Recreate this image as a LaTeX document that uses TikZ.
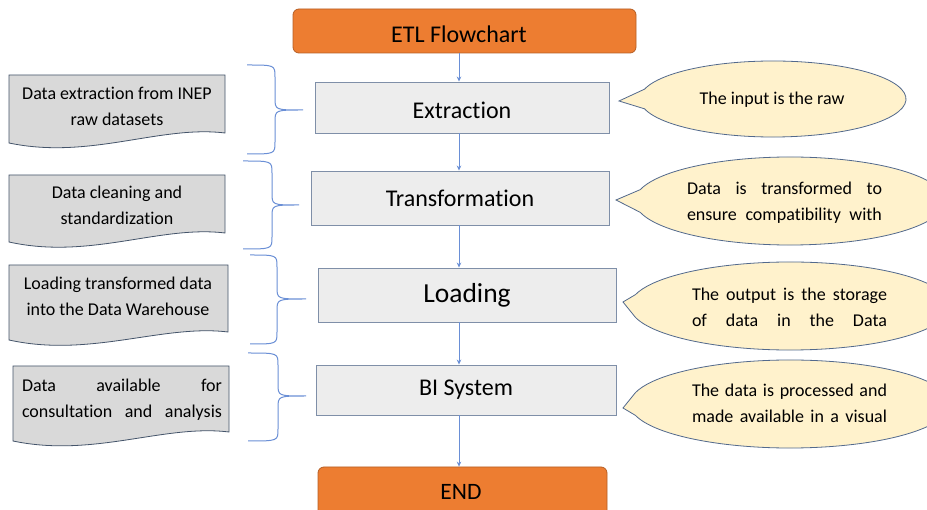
\documentclass[tikz,border=0pt]{standalone}
\usepackage{fontspec}
\setmainfont[Ligatures=NoCommon]{Carlito}
\usetikzlibrary{arrows.meta,calc}
\definecolor{orangeF}{HTML}{ED7D31}
\definecolor{orangeD}{HTML}{B65F25}
\definecolor{procF}{HTML}{EDEDED}
\definecolor{procD}{HTML}{7F8FA8}
\definecolor{docF}{HTML}{D9D9D9}
\definecolor{docD}{HTML}{44546A}
\definecolor{callF}{HTML}{FFF2CC}
\definecolor{callD}{HTML}{52698C}
\definecolor{brc}{HTML}{6A8FD6}
\begin{document}
\begin{tikzpicture}[x=1pt,y=-1pt,
 term/.style={draw=orangeD, fill=orangeF, rounded corners=6pt, line width=0.8pt, inner sep=0pt},
 proc/.style={draw=procD, fill=procF, line width=0.9pt, inner sep=0pt, font=\fontsize{24}{27}\selectfont},
 doctxt/.style={font=\fontsize{18}{26}\selectfont, align=center, inner sep=0pt},
 docshape/.style={draw=docD, fill=docF, line width=0.8pt},
 calltxt/.style={font=\fontsize{18}{25.5}\selectfont, align=center, inner sep=0pt},
 callshape/.style={draw=callD, fill=callF, line width=0.8pt},
 brace/.style={draw=brc, line width=1pt},
 arr/.style={draw=brc, line width=0.8pt, -{Stealth[length=5pt,width=4.5pt]}}]
\clip (0,0) rectangle (927,510);
\fill[white] (0,0) rectangle (927,510);

% main flow
\node[term, minimum width=343pt, minimum height=44pt] (etl) at (464.5,31) {};
\node (etlt) at (459,34) {\fontsize{24}{27}\selectfont ETL Flowchart};
\node[proc, minimum width=294pt, minimum height=51pt, text height=22pt, text depth=0pt] (ext) at (462,107.5) {Extraction};
\node[proc, minimum width=298pt, minimum height=54pt] (tra) at (460,198) {Transformation};
\node[proc, minimum width=298pt, minimum height=54pt, font=\fontsize{27.5}{31}\selectfont] (loa) at (467,295) {Loading};
\node[proc, minimum width=300pt, minimum height=50pt] (bis) at (466,390) {BI System};
\node[term, minimum width=289pt, minimum height=50pt] (endn) at (462.5,492) {};
\node (endt) at (461,492) {\fontsize{23.5}{27}\selectfont END};

\coordinate (ax) at (459,0);
\draw[arr] (etl.south -| ax) -- (ext.north -| ax);
\draw[arr] (ext.south -| ax) -- (tra.north -| ax);
\draw[arr] (tra.south -| ax) -- (loa.north -| ax);
\draw[arr] (loa.south -| ax) -- (bis.north -| ax);
\draw[arr] (bis.south -| ax) -- (endn.north -| ax);

% documents
\path[docshape] (9,75) -- (225,75) -- (225,133) .. controls (160,125) and (90,160) .. (9,143) -- cycle;
\path[docshape] (9,175) -- (225,175) -- (225,233) .. controls (160,225) and (90,260) .. (9,242) -- cycle;
\path[docshape] (9,265) -- (228,265) -- (228,332) .. controls (163,324) and (90,358) .. (9,340) -- cycle;
\path[docshape] (13,366) -- (229,366) -- (229,432) .. controls (164,424) and (94,458) .. (13,441) -- cycle;
\node[doctxt] (d1) at (117,106) {Data extraction from INEP\\raw datasets};
\node[doctxt] (d2) at (117,205.5) {Data cleaning and\\standardization};
\node[doctxt] (d3) at (118,296) {Loading transformed data\\into the Data Warehouse};
\node[doctxt] (d4) at (122,399.5) {\makebox[200pt][s]{Data available for}\\\makebox[200pt][s]{consultation and analysis}};

% braces
\draw[brace] (247,65) .. controls (275,65) .. (275,77) -- (275,98) .. controls (275,110) .. (303,110) .. controls (275,110) .. (275,122) -- (275,142) .. controls (275,154) .. (247,154);
\draw[brace] (243,161) .. controls (272,161) .. (272,173) -- (272,193) .. controls (272,205) .. (299,205) .. controls (272,205) .. (272,217) -- (272,237) .. controls (272,249) .. (243,249);
\draw[brace] (250,255) .. controls (277,255) .. (277,267) -- (277,287) .. controls (277,299) .. (306,299) .. controls (277,299) .. (277,311) -- (277,332) .. controls (277,344) .. (250,344);
\draw[brace] (248,353) .. controls (278,353) .. (278,365) -- (278,384) .. controls (278,396) .. (306,396) .. controls (278,396) .. (278,408) -- (278,429) .. controls (278,441) .. (248,441);

% callouts
\coordinate (c1) at (773,99);
\coordinate (c2) at (790,201);
\coordinate (c3) at (790,306);
\coordinate (c4) at (790,404);
\path[callshape] (619,101) -- ($(c1)+(195:133pt and 38pt)$) arc[start angle=195, end angle=525, x radius=133pt, y radius=38pt] -- cycle;
\path[callshape] (616,200) -- ($(c2)+(195:155pt and 44pt)$) arc[start angle=195, end angle=525, x radius=155pt, y radius=44pt] -- cycle;
\path[callshape] (623,302) -- ($(c3)+(195:160pt and 44pt)$) arc[start angle=195, end angle=525, x radius=160pt, y radius=44pt] -- cycle;
\path[callshape] (623,408) -- ($(c4)+(195:160pt and 44pt)$) arc[start angle=195, end angle=525, x radius=160pt, y radius=44pt] -- cycle;
\node[calltxt] (t1) at (772,99.5) {The input is the raw};
\node[calltxt] (t2) at (784.5,202.5) {\makebox[195pt][s]{Data is transformed to}\\\makebox[195pt][s]{ensure compatibility with}};
\node[calltxt] (t3) at (789.5,307.5) {\makebox[195pt][s]{The output is the storage}\\\makebox[195pt][s]{of data in the Data}};
\node[calltxt] (t4) at (789.5,403.5) {\makebox[195pt][s]{The data is processed and}\\\makebox[195pt][s]{made available in a visual}};
\end{tikzpicture}
\end{document}
